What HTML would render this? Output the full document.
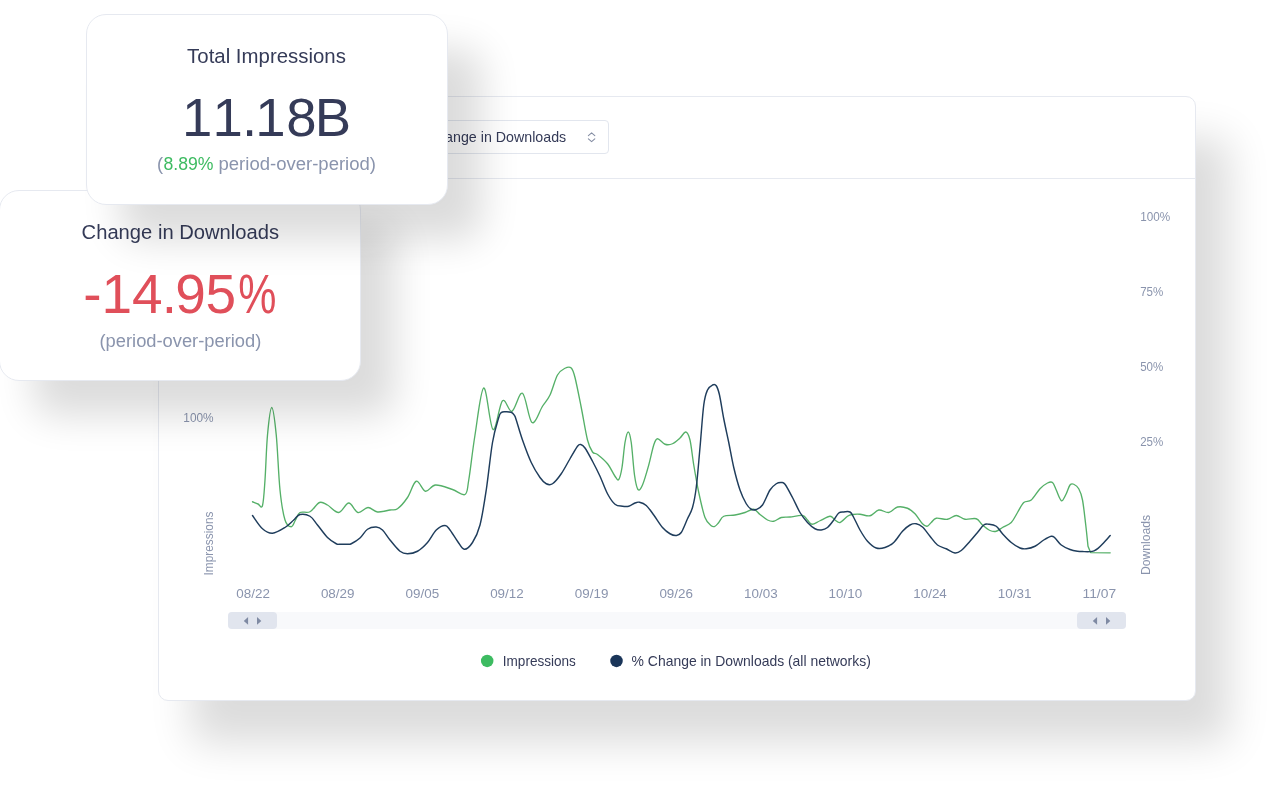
<!DOCTYPE html>
<html lang="en">
<head>
<meta charset="utf-8">
<title>Impressions vs Downloads</title>
<style>
html,body{margin:0;padding:0;background:#fff;}
body{width:1280px;height:800px;position:relative;overflow:hidden;font-family:"Liberation Sans",sans-serif;}
.box{position:absolute;background:#fff;border:1px solid #e6e9f0;box-sizing:border-box;}
#panel{left:158px;top:96px;width:1038px;height:605px;border-radius:10px;box-shadow:33px 42px 42px rgba(0,0,0,0.14);}
#card2{left:-1px;top:190px;width:362px;height:191px;border-radius:20px;box-shadow:34px 35px 38px rgba(0,0,0,0.14);}
#card1{left:86px;top:14px;width:362px;height:191px;border-radius:20px;box-shadow:34px 35px 38px rgba(0,0,0,0.14);}
#divider{position:absolute;left:159px;top:177.5px;width:1036px;height:1px;background:#e6e9f0;}
#select{position:absolute;left:414px;top:120px;width:194.5px;height:34px;border:1px solid #e2e6ee;border-radius:4px;box-sizing:border-box;background:#fff;}
#track{position:absolute;left:228px;top:612px;width:898px;height:17px;background:#f8f9fb;border-radius:4px;}
.handle{position:absolute;top:612px;width:49px;height:17px;background:#e1e5ee;border-radius:4px;}
svg{position:absolute;left:0;top:0;overflow:visible;will-change:transform;}
svg text{font-family:"Liberation Sans",sans-serif;}
</style>
</head>
<body>
<div id="panel" class="box"></div>
<div id="divider"></div>
<div id="select"></div>
<div id="track"></div>
<div class="handle" style="left:228px"></div>
<div class="handle" style="left:1077px"></div>
<svg width="1280" height="800" viewBox="0 0 1280 800">
  <path d="M252.50,501.75C253.42,502.12 256.33,503.38 258.00,504.00C259.67,504.62 261.33,509.50 262.50,505.50C263.67,501.50 264.17,491.75 265.00,480.00C265.83,468.25 266.38,447.08 267.50,435.00C268.62,422.92 270.29,407.50 271.75,407.50C273.21,407.50 274.88,421.25 276.25,435.00C277.62,448.75 278.54,475.83 280.00,490.00C281.46,504.17 283.12,513.88 285.00,520.00C286.88,526.12 289.50,526.75 291.25,526.75C293.00,526.75 294.04,522.38 295.50,520.00C296.96,517.62 297.58,513.88 300.00,512.50C302.42,511.12 306.75,513.42 310.00,511.75C313.25,510.08 316.58,503.62 319.50,502.50C322.42,501.38 324.29,503.33 327.50,505.00C330.71,506.67 335.21,512.83 338.75,512.50C342.29,512.17 345.54,503.00 348.75,503.00C351.96,503.00 354.79,511.75 358.00,512.50C361.21,513.25 364.75,507.58 368.00,507.50C371.25,507.42 373.83,511.58 377.50,512.00C381.17,512.42 386.67,510.54 390.00,510.00C393.33,509.46 394.58,510.83 397.50,508.75C400.42,506.67 404.38,502.08 407.50,497.50C410.62,492.92 413.25,482.29 416.25,481.25C419.25,480.21 422.29,490.62 425.50,491.25C428.71,491.88 431.00,485.29 435.50,485.00C440.00,484.71 447.58,487.92 452.50,489.50C457.42,491.08 462.29,496.08 465.00,494.50C467.71,492.92 467.08,489.92 468.75,480.00C470.42,470.08 472.50,450.33 475.00,435.00C477.50,419.67 480.75,388.92 483.75,388.00C486.75,387.08 489.88,427.38 493.00,429.50C496.12,431.62 499.33,403.79 502.50,400.75C505.67,397.71 508.67,412.50 512.00,411.25C515.33,410.00 519.17,391.38 522.50,393.25C525.83,395.12 528.67,420.33 532.00,422.50C535.33,424.67 539.50,410.83 542.50,406.25C545.50,401.67 547.50,400.21 550.00,395.00C552.50,389.79 555.00,379.46 557.50,375.00C560.00,370.54 562.71,369.42 565.00,368.25C567.29,367.08 569.58,366.46 571.25,368.00C572.92,369.54 573.33,370.92 575.00,377.50C576.67,384.08 579.17,397.08 581.25,407.50C583.33,417.92 585.62,432.58 587.50,440.00C589.38,447.42 590.83,449.58 592.50,452.00C594.17,454.42 595.00,452.54 597.50,454.50C600.00,456.46 604.58,460.12 607.50,463.75C610.42,467.38 613.12,473.62 615.00,476.25C616.88,478.88 617.58,480.96 618.75,479.50C619.92,478.04 620.96,473.67 622.00,467.50C623.04,461.33 623.96,448.42 625.00,442.50C626.04,436.58 627.21,432.00 628.25,432.00C629.29,432.00 630.21,435.33 631.25,442.50C632.29,449.67 633.38,467.17 634.50,475.00C635.62,482.83 636.67,487.83 638.00,489.50C639.33,491.17 640.71,489.08 642.50,485.00C644.29,480.92 646.88,471.67 648.75,465.00C650.62,458.33 652.29,449.38 653.75,445.00C655.21,440.62 655.62,438.88 657.50,438.75C659.38,438.62 662.50,443.42 665.00,444.25C667.50,445.08 670.00,444.79 672.50,443.75C675.00,442.71 677.79,439.96 680.00,438.00C682.21,436.04 684.08,431.67 685.75,432.00C687.42,432.33 688.67,434.50 690.00,440.00C691.33,445.50 692.29,456.25 693.75,465.00C695.21,473.75 696.88,483.75 698.75,492.50C700.62,501.25 702.92,511.96 705.00,517.50C707.08,523.04 709.58,524.29 711.25,525.75C712.92,527.21 713.75,526.79 715.00,526.25C716.25,525.71 717.29,524.17 718.75,522.50C720.21,520.83 721.04,517.50 723.75,516.25C726.46,515.00 731.46,515.62 735.00,515.00C738.54,514.38 741.88,513.46 745.00,512.50C748.12,511.54 751.25,508.92 753.75,509.25C756.25,509.58 757.71,512.71 760.00,514.50C762.29,516.29 765.21,518.88 767.50,520.00C769.79,521.12 771.46,521.67 773.75,521.25C776.04,520.83 778.54,518.21 781.25,517.50C783.96,516.79 786.46,517.33 790.00,517.00C793.54,516.67 799.58,515.00 802.50,515.50C805.42,516.00 805.92,518.54 807.50,520.00C809.08,521.46 809.92,524.12 812.00,524.25C814.08,524.38 817.00,522.08 820.00,520.75C823.00,519.42 827.50,516.38 830.00,516.25C832.50,516.12 833.33,518.96 835.00,520.00C836.67,521.04 837.92,523.12 840.00,522.50C842.08,521.88 845.42,517.58 847.50,516.25C849.58,514.92 850.42,514.83 852.50,514.50C854.58,514.17 857.08,514.04 860.00,514.25C862.92,514.46 866.88,516.46 870.00,515.75C873.12,515.04 875.62,510.54 878.75,510.00C881.88,509.46 885.62,513.00 888.75,512.50C891.88,512.00 894.38,507.71 897.50,507.00C900.62,506.29 904.58,507.12 907.50,508.25C910.42,509.38 912.50,511.17 915.00,513.75C917.50,516.33 920.50,521.67 922.50,523.75C924.50,525.83 925.54,526.46 927.00,526.25C928.46,526.04 929.71,523.83 931.25,522.50C932.79,521.17 933.54,518.79 936.25,518.25C938.96,517.71 944.17,519.71 947.50,519.25C950.83,518.79 953.33,515.50 956.25,515.50C959.17,515.50 961.67,518.71 965.00,519.25C968.33,519.79 973.33,517.79 976.25,518.75C979.17,519.71 980.21,523.04 982.50,525.00C984.79,526.96 987.71,529.46 990.00,530.50C992.29,531.54 994.17,531.75 996.25,531.25C998.33,530.75 1000.00,528.96 1002.50,527.50C1005.00,526.04 1008.75,525.00 1011.25,522.50C1013.75,520.00 1015.42,515.83 1017.50,512.50C1019.58,509.17 1021.46,504.58 1023.75,502.50C1026.04,500.42 1028.54,502.29 1031.25,500.00C1033.96,497.71 1037.29,491.58 1040.00,488.75C1042.71,485.92 1045.42,484.04 1047.50,483.00C1049.58,481.96 1051.04,481.33 1052.50,482.50C1053.96,483.67 1055.00,487.29 1056.25,490.00C1057.50,492.71 1058.96,497.00 1060.00,498.75C1061.04,500.50 1061.46,501.33 1062.50,500.50C1063.54,499.67 1065.00,496.33 1066.25,493.75C1067.50,491.17 1068.75,486.58 1070.00,485.00C1071.25,483.42 1072.29,483.62 1073.75,484.25C1075.21,484.88 1077.29,486.12 1078.75,488.75C1080.21,491.38 1081.33,493.96 1082.50,500.00C1083.67,506.04 1084.83,517.29 1085.75,525.00C1086.67,532.71 1087.62,542.71 1088.00,546.25L1090.60,552.60L1110.20,552.80" fill="none" stroke="#55b068" stroke-width="1.35" stroke-linejoin="round" stroke-linecap="round"/>
  <path d="M252.50,515.50C254.17,517.71 259.17,525.79 262.50,528.75C265.83,531.71 268.75,533.46 272.50,533.25C276.25,533.04 281.46,529.71 285.00,527.50C288.54,525.29 291.25,522.17 293.75,520.00C296.25,517.83 297.29,515.12 300.00,514.50C302.71,513.88 307.08,514.50 310.00,516.25C312.92,518.00 314.58,521.46 317.50,525.00C320.42,528.54 324.38,534.38 327.50,537.50C330.62,540.62 334.17,542.62 336.25,543.75C338.33,544.88 338.12,544.17 340.00,544.25C341.88,544.33 345.62,544.33 347.50,544.25C349.38,544.17 349.17,544.79 351.25,543.75C353.33,542.71 357.29,540.42 360.00,538.00C362.71,535.58 364.79,531.08 367.50,529.25C370.21,527.42 373.75,526.88 376.25,527.00C378.75,527.12 380.21,527.83 382.50,530.00C384.79,532.17 387.08,536.46 390.00,540.00C392.92,543.54 397.08,548.96 400.00,551.25C402.92,553.54 404.58,553.75 407.50,553.75C410.42,553.75 414.17,553.12 417.50,551.25C420.83,549.38 424.38,546.04 427.50,542.50C430.62,538.96 433.33,532.83 436.25,530.00C439.17,527.17 442.71,525.50 445.00,525.50C447.29,525.50 447.92,527.38 450.00,530.00C452.08,532.62 455.12,538.04 457.50,541.25C459.88,544.46 461.75,549.04 464.25,549.25C466.75,549.46 469.88,546.54 472.50,542.50C475.12,538.46 477.71,533.75 480.00,525.00C482.29,516.25 484.17,503.75 486.25,490.00C488.33,476.25 490.42,454.58 492.50,442.50C494.58,430.42 497.29,422.48 498.75,417.50C500.21,412.52 500.21,413.56 501.25,412.60C502.29,411.64 503.33,411.81 505.00,411.75C506.67,411.69 509.67,411.62 511.25,412.25C512.83,412.88 513.67,414.21 514.50,415.50C515.33,416.79 514.92,415.92 516.25,420.00C517.58,424.08 520.00,432.92 522.50,440.00C525.00,447.08 528.33,456.25 531.25,462.50C534.17,468.75 537.50,473.96 540.00,477.50C542.50,481.04 544.17,482.71 546.25,483.75C548.33,484.79 550.00,485.42 552.50,483.75C555.00,482.08 558.33,477.92 561.25,473.75C564.17,469.58 567.29,463.33 570.00,458.75C572.71,454.17 575.71,448.62 577.50,446.25C579.29,443.88 579.50,444.21 580.75,444.50C582.00,444.79 583.04,445.21 585.00,448.00C586.96,450.79 590.00,456.54 592.50,461.25C595.00,465.96 597.50,470.83 600.00,476.25C602.50,481.67 605.00,489.08 607.50,493.75C610.00,498.42 612.50,502.17 615.00,504.25C617.50,506.33 620.21,505.92 622.50,506.25C624.79,506.58 626.67,506.79 628.75,506.25C630.83,505.71 633.21,503.67 635.00,503.00C636.79,502.33 637.62,501.83 639.50,502.25C641.38,502.67 643.88,503.38 646.25,505.50C648.62,507.62 651.04,511.33 653.75,515.00C656.46,518.67 659.79,524.38 662.50,527.50C665.21,530.62 667.71,532.42 670.00,533.75C672.29,535.08 674.38,535.71 676.25,535.50C678.12,535.29 679.38,535.29 681.25,532.50C683.12,529.71 685.62,522.92 687.50,518.75C689.38,514.58 691.04,512.71 692.50,507.50C693.96,502.29 695.00,497.50 696.25,487.50C697.50,477.50 698.75,461.25 700.00,447.50C701.25,433.75 702.50,414.58 703.75,405.00C705.00,395.42 706.04,393.33 707.50,390.00C708.96,386.67 711.04,385.71 712.50,385.00C713.96,384.29 715.08,384.08 716.25,385.75C717.42,387.42 718.25,389.50 719.50,395.00C720.75,400.50 722.21,410.83 723.75,418.75C725.29,426.67 727.08,434.38 728.75,442.50C730.42,450.62 731.88,459.58 733.75,467.50C735.62,475.42 737.92,483.96 740.00,490.00C742.08,496.04 744.38,500.54 746.25,503.75C748.12,506.96 749.58,508.29 751.25,509.25C752.92,510.21 754.38,510.21 756.25,509.50C758.12,508.79 760.21,508.25 762.50,505.00C764.79,501.75 767.71,493.54 770.00,490.00C772.29,486.46 774.38,485.00 776.25,483.75C778.12,482.50 779.79,482.42 781.25,482.50C782.71,482.58 783.12,481.75 785.00,484.25C786.88,486.75 790.00,492.79 792.50,497.50C795.00,502.21 797.50,508.33 800.00,512.50C802.50,516.67 805.00,519.79 807.50,522.50C810.00,525.21 812.71,527.50 815.00,528.75C817.29,530.00 819.17,530.21 821.25,530.00C823.33,529.79 825.42,529.17 827.50,527.50C829.58,525.83 831.88,522.42 833.75,520.00C835.62,517.58 837.08,514.33 838.75,513.00C840.42,511.67 841.88,512.17 843.75,512.00C845.62,511.83 848.33,511.08 850.00,512.00C851.67,512.92 852.08,514.50 853.75,517.50C855.42,520.50 857.71,526.04 860.00,530.00C862.29,533.96 864.79,538.25 867.50,541.25C870.21,544.25 873.33,546.96 876.25,548.00C879.17,549.04 882.08,548.42 885.00,547.50C887.92,546.58 890.83,545.21 893.75,542.50C896.67,539.79 899.79,534.17 902.50,531.25C905.21,528.33 907.71,526.25 910.00,525.00C912.29,523.75 914.17,523.42 916.25,523.75C918.33,524.08 920.21,524.92 922.50,527.00C924.79,529.08 927.50,533.25 930.00,536.25C932.50,539.25 934.79,542.92 937.50,545.00C940.21,547.08 943.33,547.42 946.25,548.75C949.17,550.08 952.50,552.71 955.00,553.00C957.50,553.29 958.75,552.46 961.25,550.50C963.75,548.54 967.29,544.25 970.00,541.25C972.71,538.25 975.21,535.21 977.50,532.50C979.79,529.79 981.88,526.38 983.75,525.00C985.62,523.62 986.67,524.04 988.75,524.25C990.83,524.46 993.96,524.67 996.25,526.25C998.54,527.83 1000.00,531.04 1002.50,533.75C1005.00,536.46 1008.33,540.12 1011.25,542.50C1014.17,544.88 1017.50,546.96 1020.00,548.00C1022.50,549.04 1023.75,549.04 1026.25,548.75C1028.75,548.46 1032.08,547.71 1035.00,546.25C1037.92,544.79 1041.04,541.67 1043.75,540.00C1046.46,538.33 1049.38,536.58 1051.25,536.25C1053.12,535.92 1053.33,536.54 1055.00,538.00C1056.67,539.46 1058.75,543.08 1061.25,545.00C1063.75,546.92 1067.29,548.46 1070.00,549.50C1072.71,550.54 1075.17,550.90 1077.50,551.25C1079.83,551.60 1081.92,551.54 1084.00,551.60C1086.08,551.66 1088.33,551.73 1090.00,551.60C1091.67,551.47 1092.67,551.33 1094.00,550.80C1095.33,550.27 1096.38,549.73 1098.00,548.40C1099.62,547.07 1101.72,544.95 1103.75,542.80C1105.78,540.65 1109.12,536.72 1110.20,535.50" fill="none" stroke="#1f3d5c" stroke-width="1.45" stroke-linejoin="round" stroke-linecap="round"/>
  <text x="410.30" y="141.90" font-size="14.2" fill="#353b58" textLength="155.90" lengthAdjust="spacingAndGlyphs">% Change in Downloads</text>
  <path d="M588.4,135.6 L591.6,132.9 L594.8,135.6 M588.4,138.9 L591.6,141.6 L594.8,138.9" fill="none" stroke="#848da3" stroke-width="1.1" stroke-linecap="round" stroke-linejoin="round"/>
  <text x="1140.2" y="220.9" font-size="12.4" fill="#8a94ad" textLength="30" lengthAdjust="spacingAndGlyphs">100%</text>
<text x="1140.2" y="296" font-size="12.4" fill="#8a94ad" textLength="23.1" lengthAdjust="spacingAndGlyphs">75%</text>
<text x="1140.2" y="371" font-size="12.4" fill="#8a94ad" textLength="23.1" lengthAdjust="spacingAndGlyphs">50%</text>
<text x="1140.2" y="446" font-size="12.4" fill="#8a94ad" textLength="23.1" lengthAdjust="spacingAndGlyphs">25%</text>

  <text x="183.30" y="422.00" font-size="12.4" fill="#8a94ad" textLength="30.30" lengthAdjust="spacingAndGlyphs">100%</text>
  <text x="0.00" y="0.00" font-size="12.3" fill="#8a94ad" textLength="64.00" lengthAdjust="spacingAndGlyphs" transform="translate(212.7,575.5) rotate(-90)">Impressions</text>
  <text x="0.00" y="0.00" font-size="12.3" fill="#8a94ad" textLength="60.00" lengthAdjust="spacingAndGlyphs" transform="translate(1150.1,574.9) rotate(-90)">Downloads</text>
  <text x="236.30" y="597.8" font-size="12.4" fill="#8a94ad" textLength="33.6" lengthAdjust="spacingAndGlyphs">08/22</text>
<text x="320.92" y="597.8" font-size="12.4" fill="#8a94ad" textLength="33.6" lengthAdjust="spacingAndGlyphs">08/29</text>
<text x="405.54" y="597.8" font-size="12.4" fill="#8a94ad" textLength="33.6" lengthAdjust="spacingAndGlyphs">09/05</text>
<text x="490.16" y="597.8" font-size="12.4" fill="#8a94ad" textLength="33.6" lengthAdjust="spacingAndGlyphs">09/12</text>
<text x="574.78" y="597.8" font-size="12.4" fill="#8a94ad" textLength="33.6" lengthAdjust="spacingAndGlyphs">09/19</text>
<text x="659.40" y="597.8" font-size="12.4" fill="#8a94ad" textLength="33.6" lengthAdjust="spacingAndGlyphs">09/26</text>
<text x="744.02" y="597.8" font-size="12.4" fill="#8a94ad" textLength="33.6" lengthAdjust="spacingAndGlyphs">10/03</text>
<text x="828.64" y="597.8" font-size="12.4" fill="#8a94ad" textLength="33.6" lengthAdjust="spacingAndGlyphs">10/10</text>
<text x="913.26" y="597.8" font-size="12.4" fill="#8a94ad" textLength="33.6" lengthAdjust="spacingAndGlyphs">10/24</text>
<text x="997.88" y="597.8" font-size="12.4" fill="#8a94ad" textLength="33.6" lengthAdjust="spacingAndGlyphs">10/31</text>
<text x="1082.50" y="597.8" font-size="12.4" fill="#8a94ad" textLength="33.6" lengthAdjust="spacingAndGlyphs">11/07</text>

  <path d="M243.8,620.9 L248.1,617.1 L248.1,624.7 Z M261.3,620.9 L257,617.1 L257,624.7 Z" fill="#7f8aa3"/>
  <path d="M1092.8,620.9 L1097.1,617.1 L1097.1,624.7 Z M1110.3,620.9 L1106,617.1 L1106,624.7 Z" fill="#7f8aa3"/>
  <circle cx="487.2" cy="660.9" r="6.25" fill="#3dbb61"/>
  <circle cx="616.5" cy="660.9" r="6.25" fill="#1a3559"/>
  <text x="502.80" y="665.70" font-size="14.3" fill="#353b58" textLength="73.10" lengthAdjust="spacingAndGlyphs">Impressions</text>
  <text x="631.60" y="665.70" font-size="14.3" fill="#353b58" textLength="239.20" lengthAdjust="spacingAndGlyphs">% Change in Downloads (all networks)</text>
</svg>
<div id="card2" class="box"></div>
<svg width="1280" height="800" viewBox="0 0 1280 800">
  <text x="81.60" y="239.40" font-size="20.5" fill="#353b58" textLength="197.50" lengthAdjust="spacingAndGlyphs">Change in Downloads</text>
  <text x="83.24 101.51 132.11 161.66 175.21 205.51" y="312.80" font-size="55" fill="#e04f5a">-14.95<tspan x="238.25" textLength="38.16" lengthAdjust="spacingAndGlyphs">%</tspan></text>
  <text x="99.50" y="347.10" font-size="18.3" fill="#8a94ad" textLength="161.80" lengthAdjust="spacingAndGlyphs">(period-over-period)</text>
</svg>
<div id="card1" class="box"></div>
<svg width="1280" height="800" viewBox="0 0 1280 800">
  <text x="187.10" y="63.40" font-size="20.5" fill="#353b58" textLength="158.80" lengthAdjust="spacingAndGlyphs">Total Impressions</text>
  <text x="182.10 212.55 241.92 255.25 286.15 314.72" y="136.00" font-size="54.5" fill="#353b58">11.18B</text>
  <text y="170.25" font-size="18.3" fill="#8a94ad"><tspan x="157.00">(</tspan><tspan x="163.50" fill="#3dbb61" textLength="50.00" lengthAdjust="spacingAndGlyphs">8.89%</tspan> <tspan x="218.50" textLength="157.50" lengthAdjust="spacingAndGlyphs">period-over-period)</tspan></text>
</svg>
</body>
</html>
